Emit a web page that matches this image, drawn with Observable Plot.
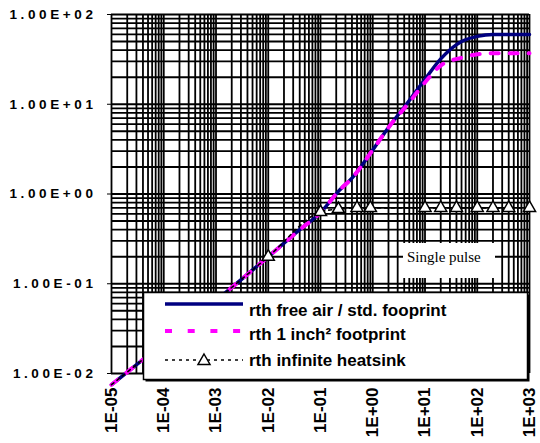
<!DOCTYPE html>
<html><head><meta charset="utf-8">
<script src="https://cdn.jsdelivr.net/npm/d3@7"></script>
<script src="https://cdn.jsdelivr.net/npm/@observablehq/plot@0.6"></script>
<style>
body{margin:0;background:#fff;}
#wrap{position:relative;width:540px;height:443px;overflow:hidden;}
#wrap svg.plot{display:block;}
#overlay{position:absolute;left:0;top:0;pointer-events:none;}
</style></head><body><div id="wrap"></div>
<script>
// ---- data ----
const xTicks = [1e-5, 1e-4, 1e-3, 1e-2, 1e-1, 1, 10, 100, 1000];
const xTickLabels = ["1E-05","1E-04","1E-03","1E-02","1E-01","1E+00","1E+01","1E+02","1E+03"];
const yTicks = [0.01, 0.1, 1, 10, 100];
const yTickLabels = ["1.00E-02","1.00E-01","1.00E+00","1.00E+01","1.00E+02"];
const gridMultipliers = [1,2,3,4,5,6,7,8,9];

const tFreeAir   = [1e-5, 1e-4, 1e-3, 1e-2, 0.04, 0.1, 0.23, 0.4, 1, 2, 5, 10, 20, 50, 100, 200, 1000];
const rthFreeAir = [0.0075, 0.022, 0.065, 0.2, 0.4, 0.62, 1.1, 1.5, 3.1, 5.5, 11, 19, 32, 50, 57, 60, 60];

const tInch   = [1e-5, 1e-4, 1e-3, 1e-2, 0.04, 0.1, 0.23, 0.4, 1, 2, 5, 10, 20, 50, 100, 200, 1000];
const rthInch = [0.0075, 0.022, 0.065, 0.2, 0.4, 0.62, 1.1, 1.5, 3.1, 5.5, 10.5, 17.5, 27, 33, 36, 37, 37];

const tHeatsink   = [1e-5, 1e-4, 1e-3, 1e-2, 0.1, 0.22, 0.5, 0.9, 10, 20, 40, 100, 200, 400, 1000];
const rthHeatsink = [0.0075, 0.022, 0.065, 0.2, 0.63, 0.68, 0.7, 0.7, 0.7, 0.7, 0.7, 0.7, 0.7, 0.7, 0.7];

const legendLabels = ["rth free air / std. fooprint", "rth 1 inch\u00B2 footprint", "rth infinite heatsink"];
const noteText = "Single pulse";

// ---- tables ----
const freeAir = tFreeAir.map((t,i)=>({t, r: rthFreeAir[i]}));
const inch = tInch.map((t,i)=>({t, r: rthInch[i]}));
const heat = tHeatsink.map((t,i)=>({t, r: rthHeatsink[i]}));
const gridX = xTicks.flatMap(d => gridMultipliers.map(m => d*m)).filter(v => v <= 1000*1.0001);
const gridY = yTicks.flatMap(d => gridMultipliers.map(m => d*m)).filter(v => v <= 100*1.0001);

const chart = Plot.plot({
  width: 540, height: 443,
  marginLeft: 111, marginRight: 11, marginTop: 14, marginBottom: 70,
  x: {type: "log", domain: [1e-5, 1e3]},
  y: {type: "log", domain: [1e-2, 1e2]},
  style: {fontFamily: "'Liberation Sans', Arial, sans-serif", background: "white", color: "black"},
  marks: [
    Plot.ruleX(gridX, {stroke: "#000", strokeWidth: 1.8}),
    Plot.ruleY(gridY, {stroke: "#000", strokeWidth: 1.8}),
    Plot.axisY({ticks: yTicks, tickFormat: d => yTickLabels[yTicks.indexOf(d)], tickSize: 4, tickPadding: 11,
      fontSize: 13.5, fontWeight: "bold", label: null}),
    Plot.axisX({ticks: xTicks, tickFormat: d => xTickLabels[xTicks.indexOf(d)], tickSize: 0, tickPadding: 14,
      tickRotate: -90, textAnchor: "end", lineAnchor: "middle", fontSize: 17, fontWeight: "bold", label: null}),
    Plot.line(freeAir, {x: "t", y: "r", stroke: "#000080", strokeWidth: 3.5, curve: "monotone-x"}),
    Plot.line(inch, {x: "t", y: "r", stroke: "#ff00ff", strokeWidth: 4, strokeDasharray: "8,11", curve: "monotone-x"}),
    Plot.line(heat, {x: "t", y: "r", stroke: "#000", strokeWidth: 1.6, strokeDasharray: "3,4", curve: "monotone-x"}),
    Plot.dot(heat.filter(d => d.t >= 1e-4), {x: "t", y: "r", symbol: "triangle", r: 4.5, fill: "white", stroke: "#000", strokeWidth: 1.5})
  ]
});
chart.classList.add("plot");
chart.querySelectorAll('g[aria-label="y-axis tick label"] text').forEach(t => t.setAttribute("letter-spacing", "3.6"));
const wrap = document.getElementById("wrap");
wrap.appendChild(chart);

// ---- legend & note overlay ----
const ns = "http://www.w3.org/2000/svg";
const ov = document.createElementNS(ns, "svg");
ov.setAttribute("id","overlay"); ov.setAttribute("width",540); ov.setAttribute("height",443);
function el(tag, attrs, text){ const e = document.createElementNS(ns, tag); for (const k in attrs) e.setAttribute(k, attrs[k]); if (text!=null) e.textContent = text; ov.appendChild(e); return e; }
// note box
el("rect", {x:403, y:243, width:92, height:35, fill:"white"});
el("text", {x:407, y:262, "font-family":"'Liberation Serif','Times New Roman',serif", "font-size":15, fill:"#000"}, noteText);
// legend box
el("rect", {x:145.5, y:294.5, width:384, height:87, fill:"#000"});
el("rect", {x:143.5, y:292.5, width:384, height:87, fill:"white", stroke:"#000", "stroke-width":1.5});
el("line", {x1:165, x2:243, y1:304, y2:304, stroke:"#000080", "stroke-width":3.5});
el("line", {x1:165, x2:243, y1:331, y2:331, stroke:"#ff00ff", "stroke-width":4, "stroke-dasharray":"7,15.7"});
el("line", {x1:165, x2:243, y1:360, y2:360, stroke:"#000", "stroke-width":1.6, "stroke-dasharray":"3,4"});
el("path", {d:"M204,354 L210,364.4 L198,364.4 Z", fill:"white", stroke:"#000", "stroke-width":1.5});
const ty = [316, 340, 366];
legendLabels.forEach((s,i)=> el("text", {x:249, y:ty[i], "font-family":"'Liberation Sans', Arial, sans-serif", "font-weight":"bold", "font-size":17, fill:"#000"}, s));
wrap.appendChild(ov);
</script>
</body></html>
